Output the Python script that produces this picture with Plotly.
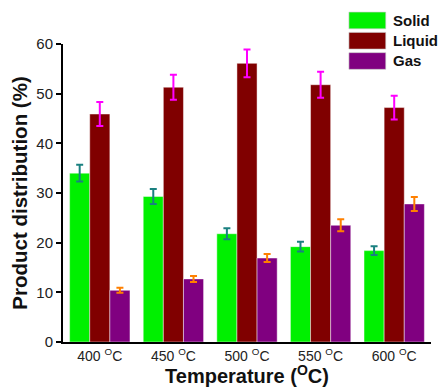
import plotly.graph_objects as go

categories = ["400 <sup>O</sup>C", "450 <sup>O</sup>C", "500 <sup>O</sup>C", "550 <sup>O</sup>C", "600 <sup>O</sup>C"]
solid = [34.0, 29.3, 21.8, 19.2, 18.4]
solid_err = [1.7, 1.5, 1.1, 1.0, 0.9]
liquid = [45.9, 51.3, 56.1, 51.8, 47.2]
liquid_err = [2.4, 2.5, 2.8, 2.6, 2.4]
gas = [10.4, 12.7, 16.9, 23.5, 27.8]
gas_err = [0.5, 0.6, 0.8, 1.2, 1.4]
series_names = ["Solid", "Liquid", "Gas"]
bar_colors = ["#00f000", "#800000", "#800080"]
err_colors = ["#1a8080", "#ff00ff", "#ff8000"]

FONT = "Liberation Sans, Arial, sans-serif"

fig = go.Figure()
for name, vals, errs, c, ec in zip(series_names, [solid, liquid, gas],
                                    [solid_err, liquid_err, gas_err], bar_colors, err_colors):
    fig.add_trace(go.Bar(
        x=categories, y=vals, name=name,
        marker=dict(color=c, line=dict(color="rgba(255,255,255,0.45)", width=1)),
        error_y=dict(type="data", array=errs, visible=True, color=ec, thickness=2, width=3.5),
        showlegend=False,
    ))

# legend drawn as boxes + text
for i, (name, c) in enumerate(zip(series_names, bar_colors)):
    y0 = 1.107 - i * 0.068
    fig.add_shape(type="rect", xref="paper", yref="paper",
                  x0=0.777, x1=0.877, y0=y0 - 0.056, y1=y0,
                  fillcolor=c, line=dict(color="rgba(200,200,200,0.6)", width=1))
    fig.add_annotation(xref="paper", yref="paper", x=0.89, y=y0 - 0.028,
                       text=f"<b>{name}</b>", showarrow=False, xanchor="left", yanchor="middle",
                       font=dict(family=FONT, size=15, color="#111"))

fig.update_layout(
    width=439, height=387,
    margin=dict(l=63, r=8, t=44, b=45),
    paper_bgcolor="white", plot_bgcolor="white",
    barmode="group", bargap=0.18, bargroupgap=0,
    font=dict(family=FONT, size=14, color="#222"),
    xaxis=dict(
        showline=True, linecolor="black", linewidth=2,
        ticks="", showgrid=False,
        tickfont=dict(family=FONT, size=14, color="#222"),
        title=dict(text="<b>Temperature (<sup>O</sup>C)</b>", standoff=1,
                   font=dict(family=FONT, size=20, color="#111")),
    ),
    yaxis=dict(
        range=[0, 60], tickvals=[0, 10, 20, 30, 40, 50, 60],
        showline=True, linecolor="black", linewidth=2,
        ticks="outside", ticklen=5, tickwidth=2, tickcolor="black",
        showgrid=False, zeroline=False,
        tickfont=dict(family=FONT, size=15, color="#222"),
        title=dict(text="<b>Product distribution (%)</b>", standoff=3,
                   font=dict(family=FONT, size=20.5, color="#111")),
    ),
)

fig.write_html("out.html", config={"displayModeBar": False},
               post_script="document.body.style.margin='0';")
